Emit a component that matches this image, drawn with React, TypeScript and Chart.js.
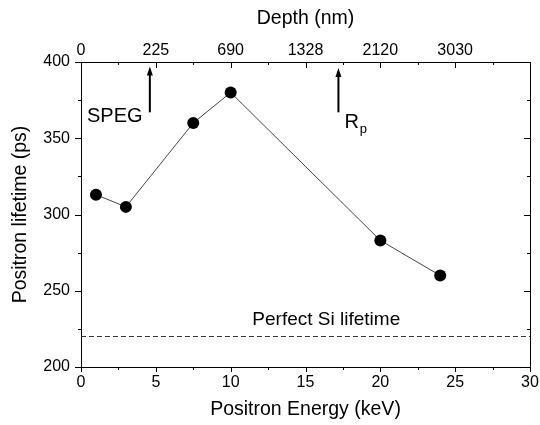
import React, { useEffect, useRef } from 'react';
import { Chart, registerables } from 'chart.js';
Chart.register(...registerables);

const energy = [1, 3, 7.5, 10, 20, 24];
const lifetime = [313, 305, 360, 380, 283, 260];
const perfectSiLifetime = 220;
const energyRange = [0, 30];
const lifetimeRange = [200, 400];
const depthTickEnergies = [0, 5, 10, 15, 20, 25];
const depthTickLabels = ['0', '225', '690', '1328', '2120', '3030'];
const spegArrow = { energy: 4.6, from: 367, to: 397 };
const rpArrow = { energy: 17.2, from: 367, to: 396 };
const spegLabel = { energy: 0.4, lifetime: 360.5, text: 'SPEG' };
const rpLabel = { energy: 17.6, lifetime: 356.5, text: 'R', sub: 'p' };
const siLabel = { energy: 11.45, lifetime: 227.5, text: 'Perfect Si lifetime' };

const FONT = '"Liberation Sans", Arial, sans-serif';

const ticksPlugin = {
  id: 'customTicks',
  afterDraw(chart: any) {
    const ctx = chart.ctx;
    const { left, right, top, bottom } = chart.chartArea;
    const x = chart.scales.x;
    const y = chart.scales.y;
    ctx.save();
    ctx.strokeStyle = '#000';
    ctx.lineWidth = 1;
    ctx.beginPath();
    x.ticks.forEach((t: any) => {
      const px = Math.round(x.getPixelForValue(t.value)) + 0.5;
      const major = Math.abs(t.value % 5) < 1e-6;
      ctx.moveTo(px, bottom);
      ctx.lineTo(px, bottom + (major ? 5 : 3));
      ctx.moveTo(px, top);
      ctx.lineTo(px, top + (major ? 6 : 3));
    });
    y.ticks.forEach((t: any) => {
      const py = Math.round(y.getPixelForValue(t.value)) + 0.5;
      const major = Math.abs(t.value % 50) < 1e-6;
      ctx.moveTo(left, py);
      ctx.lineTo(left - (major ? 6 : 3), py);
      ctx.moveTo(right, py);
      ctx.lineTo(right - (major ? 6 : 3), py);
    });
    ctx.stroke();

    const drawArrow = (a: any) => {
      const px = x.getPixelForValue(a.energy);
      const y1 = y.getPixelForValue(a.from);
      const y2 = y.getPixelForValue(a.to);
      ctx.beginPath();
      ctx.lineWidth = 2;
      ctx.moveTo(px, y1);
      ctx.lineTo(px, y2 + 6);
      ctx.stroke();
      ctx.beginPath();
      ctx.fillStyle = '#000';
      ctx.moveTo(px, y2);
      ctx.lineTo(px - 3, y2 + 9);
      ctx.lineTo(px + 3, y2 + 9);
      ctx.closePath();
      ctx.fill();
    };
    drawArrow(spegArrow);
    drawArrow(rpArrow);

    ctx.fillStyle = '#000';
    ctx.textBaseline = 'alphabetic';
    ctx.textAlign = 'left';
    ctx.font = `20px ${FONT}`;
    ctx.fillText(spegLabel.text, x.getPixelForValue(spegLabel.energy), y.getPixelForValue(spegLabel.lifetime));
    const rx = x.getPixelForValue(rpLabel.energy);
    const ry = y.getPixelForValue(rpLabel.lifetime);
    ctx.fillText(rpLabel.text, rx, ry);
    const rw = ctx.measureText(rpLabel.text).width;
    ctx.font = `13px ${FONT}`;
    ctx.fillText(rpLabel.sub, rx + rw + 1, ry + 5);
    ctx.font = `19px ${FONT}`;
    ctx.fillText(siLabel.text, x.getPixelForValue(siLabel.energy), y.getPixelForValue(siLabel.lifetime));
    ctx.restore();
  },
};

export default function App() {
  const ref = useRef<HTMLCanvasElement>(null);
  useEffect(() => {
    if (!ref.current) return;
    const tickFont = { family: FONT, size: 16 };
    const titleFont = { family: FONT, size: 19.5 };
    const fitH = (h: number) => (s: any) => { s.height = h; s.paddingLeft = 0; s.paddingRight = 0; };
    const fitW = (w: number) => (s: any) => { s.width = w; s.paddingTop = 0; s.paddingBottom = 0; };
    const chart = new Chart(ref.current, {
      type: 'scatter',
      data: {
        datasets: [
          {
            label: 'Lifetime',
            data: energy.map((e, i) => ({ x: e, y: lifetime[i] })),
            showLine: true,
            borderColor: '#444',
            borderWidth: 1,
            pointRadius: 6,
            pointBackgroundColor: '#000',
            pointBorderColor: '#000',
            pointBorderWidth: 0,
          },
          {
            label: 'Perfect Si',
            data: [
              { x: energyRange[0], y: perfectSiLifetime },
              { x: energyRange[1], y: perfectSiLifetime },
            ],
            showLine: true,
            borderColor: '#333',
            borderWidth: 1,
            borderDash: [5, 3],
            pointRadius: 0,
          },
        ],
      },
      plugins: [ticksPlugin],
      options: {
        animation: false,
        responsive: false,
        maintainAspectRatio: false,
        layout: { padding: 0 },
        plugins: { legend: { display: false }, tooltip: { enabled: false } },
        scales: {
          x: {
            type: 'linear',
            position: 'bottom',
            min: energyRange[0],
            max: energyRange[1],
            grid: { display: false, drawTicks: false },
            border: { display: true, color: '#000', width: 1 },
            ticks: {
              stepSize: 2.5,
              autoSkip: false,
              maxRotation: 0,
              padding: 6,
              color: '#000',
              font: tickFont,
              callback: (v: any) => (Math.abs(v % 5) < 1e-6 ? String(v) : ''),
            },
            title: { display: true, text: 'Positron Energy (keV)', color: '#000', font: titleFont, padding: { top: 0, bottom: 4 } },
            afterFit: fitH(58),
          },
          x2: {
            type: 'linear',
            position: 'top',
            min: energyRange[0],
            max: energyRange[1],
            grid: { display: false, drawTicks: false },
            border: { display: true, color: '#000', width: 1 },
            ticks: {
              stepSize: 2.5,
              autoSkip: false,
              maxRotation: 0,
              padding: 2,
              color: '#000',
              font: tickFont,
              callback: (v: any) => {
                const i = depthTickEnergies.indexOf(v);
                return i >= 0 ? depthTickLabels[i] : '';
              },
            },
            title: { display: true, text: 'Depth (nm)', color: '#000', font: titleFont, padding: { top: 7, bottom: 0 } },
            afterFit: fitH(62),
          },
          y: {
            type: 'linear',
            position: 'left',
            min: lifetimeRange[0],
            max: lifetimeRange[1],
            grid: { display: false, drawTicks: false },
            border: { display: true, color: '#000', width: 1 },
            ticks: {
              stepSize: 25,
              autoSkip: false,
              padding: 11,
              color: '#000',
              font: tickFont,
              callback: (v: any) => (Math.abs(v % 50) < 1e-6 ? String(v) : ''),
            },
            title: { display: true, text: 'Positron lifetime (ps)', color: '#000', font: titleFont, padding: { top: 9, bottom: 0 } },
            afterFit: fitW(81),
          },
          y2: {
            type: 'linear',
            position: 'right',
            min: lifetimeRange[0],
            max: lifetimeRange[1],
            grid: { display: false, drawTicks: false },
            border: { display: true, color: '#000', width: 1 },
            ticks: { display: false, stepSize: 25 },
            afterFit: fitW(10),
          },
        },
      },
    } as any);
    return () => chart.destroy();
  }, []);
  return (
    <div style={{ position: 'absolute', left: 0, top: 0, width: 540, height: 425, background: '#fff' }}>
      <canvas ref={ref} width={540} height={425} style={{ display: 'block', width: 540, height: 425 }} />
    </div>
  );
}
